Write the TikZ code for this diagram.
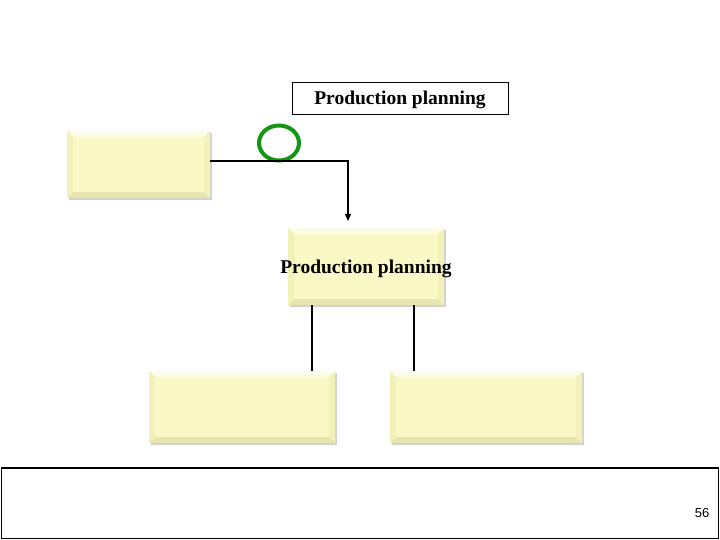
\documentclass[tikz,border=0pt]{standalone}
\usepackage{fontspec}
\setmainfont{Liberation Serif}
\newfontfamily\arialfont{Liberation Sans}
\usetikzlibrary{arrows.meta,shadows,shapes.geometric}
\definecolor{bevface}{RGB}{250,248,196}
\definecolor{bevlight}{RGB}{253,252,228}
\definecolor{bevdark}{RGB}{232,230,176}
\definecolor{bevmid}{RGB}{243,241,186}
\definecolor{ringgreen}{RGB}{20,150,20}
\tikzset{
  bevbox/.style={draw=none, fill=bevface, inner sep=0pt, anchor=north west,
    drop shadow={shadow xshift=1.5pt, shadow yshift=-1.5pt, fill=black!35, opacity=0.5},
    path picture={
      \coordinate (ll) at (path picture bounding box.south west);
      \coordinate (ur) at (path picture bounding box.north east);
      \fill[bevlight] (ll|-ur) -- (ur) -- ([xshift=-6pt,yshift=-6pt]ur) -- ([xshift=6pt,yshift=-6pt]ll|-ur) -- cycle;
      \fill[bevmid] (ll) -- (ll|-ur) -- ([xshift=6pt,yshift=-6pt]ll|-ur) -- ([xshift=6pt,yshift=6pt]ll) -- cycle;
      \fill[bevdark] (ll) -- (ur|-ll) -- ([xshift=-6pt,yshift=6pt]ur|-ll) -- ([xshift=6pt,yshift=6pt]ll) -- cycle;
      \fill[bevmid] (ur|-ll) -- (ur) -- ([xshift=-6pt,yshift=-6pt]ur) -- ([xshift=-6pt,yshift=6pt]ur|-ll) -- cycle;
    }},
  lbl/.style={font=\bfseries\fontsize{19.5}{22}\selectfont, inner sep=0pt},
  conn/.style={line width=1.3pt, black},
}
\begin{document}
\begin{tikzpicture}[x=1pt,y=-1pt]
\useasboundingbox (0,0) rectangle (720,540);
\fill[white] (0,0) rectangle (720,540);
% top label box
\node[draw, line width=0.8pt, minimum width=216pt, minimum height=32pt, inner sep=0pt] (top) at (400,98) {};
\node[lbl] (toptxt) at (400,100) {Production planning};
% left box
\node[bevbox, minimum width=143pt, minimum height=67pt] (left) at (67,131) {};
% middle box
\node[bevbox, minimum width=156pt, minimum height=77pt] (mid) at (288,228) {};
\node[lbl] (midtxt) at (366,269) {Production planning};
% bottom boxes
\node[bevbox, minimum width=186pt, minimum height=72pt] (bl) at (149,371) {};
\node[bevbox, minimum width=192pt, minimum height=72pt] (br) at (390,371) {};
% green ring
\node[draw=ringgreen, line width=4pt, ellipse, minimum width=40pt, minimum height=35pt, inner sep=0pt] (ring) at (279,143) {};
% connectors
\coordinate (bend) at (348,161);
\coordinate (tip) at (348,221);
\draw[conn, -{Triangle[length=7pt,width=6pt]}] (left.east |- bend) -- (bend) -- (tip);
\draw[conn] ([xshift=24pt]mid.south west) -- ([xshift=24pt]mid.south west |- bl.north);
\draw[conn] ([xshift=126pt]mid.south west) -- ([xshift=126pt]mid.south west |- br.north);
% footer
\node[draw, line width=1.2pt, minimum width=717pt, minimum height=70pt, inner sep=0pt, anchor=north west] (foot) at (1,468) {};
\draw[line width=2.2pt] (foot.north west) -- (foot.north east);
\node[font=\arialfont\fontsize{13}{15}\selectfont] (pg) at (702,513) {56};
\end{tikzpicture}
\end{document}
